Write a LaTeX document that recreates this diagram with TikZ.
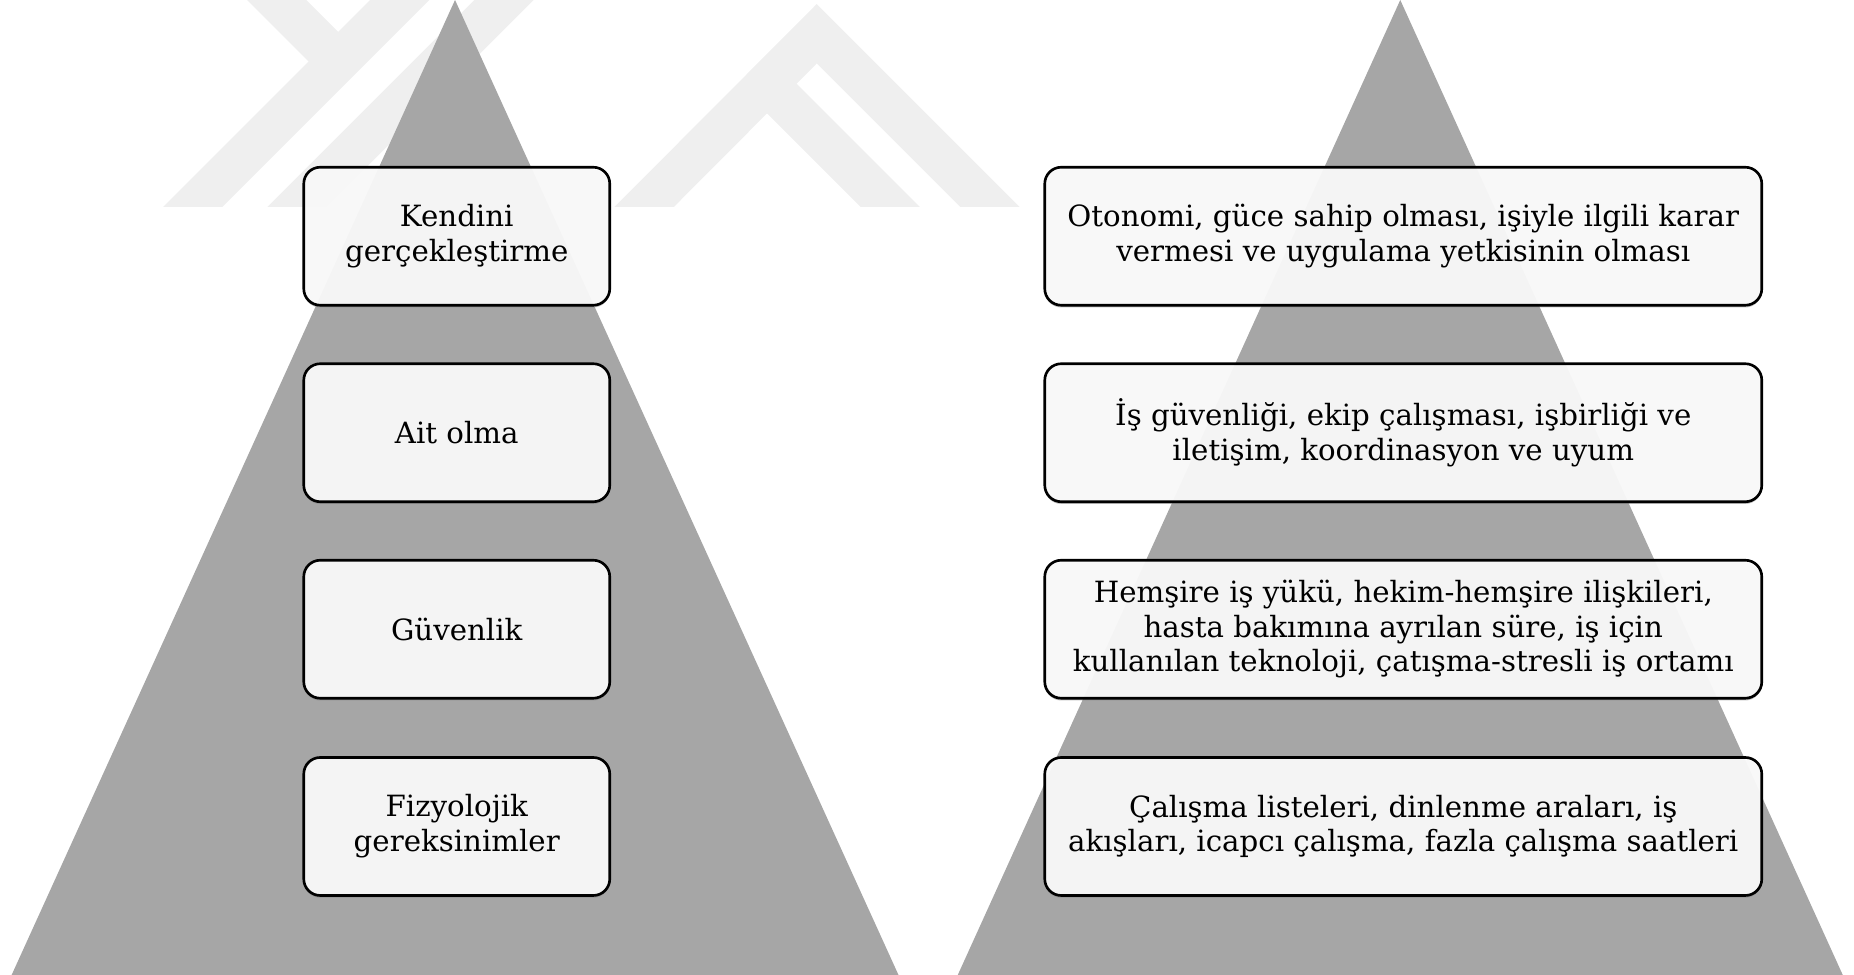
\documentclass[tikz,border=0pt]{standalone}
\usepackage{fontspec}
\setmainfont{DejaVu Serif}
\definecolor{pyrgray}{RGB}{166,166,166}
\definecolor{wmgray}{RGB}{239,239,239}
\usetikzlibrary{shadows}

\begin{document}
\begin{tikzpicture}[
  tier/.style={draw,rounded corners=0.22cm,line width=1pt,fill=white,fill opacity=0.9,text opacity=1,
    minimum height=1.84cm,align=center,font=\fontsize{11.1}{13.2}\selectfont,
    drop shadow={shadow xshift=0pt,shadow yshift=-0.03cm,opacity=0.5}},
  need/.style={tier,minimum width=4.08cm},
  factor/.style={tier,minimum width=9.56cm},
  band/.style={wmgray,line width=0.56cm}
]
  \useasboundingbox (0,0) rectangle (24.72,13);

  % faint watermark behind the pyramids
  \begin{scope}
    \clip (0,10.24) rectangle (24.72,13);
    \draw[band] (3.29,13.4) -- (4.51,12.18);
    \draw[band] (5.73,13.4) -- (2.17,9.84);
    \draw[band] (7.12,13.4) -- (3.56,9.84);
    \draw[band] (8.19,9.84) -- (10.89,12.55) -- (13.6,9.84);
    \draw[band] (10.23,11.88) -- (12.27,9.84);
  \end{scope}

  % pyramids
  \fill[pyrgray] (0.155,0) -- (6.067,13) -- (11.98,0) -- cycle;
  \fill[pyrgray] (12.77,0) -- (18.67,13) -- (24.57,0) -- cycle;

  % Maslow levels
  \node[need] (selfreal) at (6.09,9.85) {Kendini\\gerçekleştirme};
  \node[need] (belong) at (6.09,7.23) {Ait olma};
  \node[need] (safety) at (6.09,4.61) {Güvenlik};
  \node[need] (physio) at (6.09,1.98) {Fizyolojik\\gereksinimler};

  % work environment factors
  \node[factor] (autonomy) at (18.71,9.85) {Otonomi, güce sahip olması, işiyle ilgili karar\\vermesi ve uygulama yetkisinin olması};
  \node[factor] (teamwork) at (18.71,7.23) {İş güvenliği, ekip çalışması, işbirliği ve\\iletişim, koordinasyon ve uyum};
  \node[factor] (workload) at (18.71,4.61) {Hemşire iş yükü, hekim-hemşire ilişkileri,\\hasta bakımına ayrılan süre, iş için\\kullanılan teknoloji, çatışma-stresli iş ortamı};
  \node[factor] (schedule) at (18.71,1.98) {Çalışma listeleri, dinlenme araları, iş\\akışları, icapcı çalışma, fazla çalışma saatleri};
\end{tikzpicture}
\end{document}
